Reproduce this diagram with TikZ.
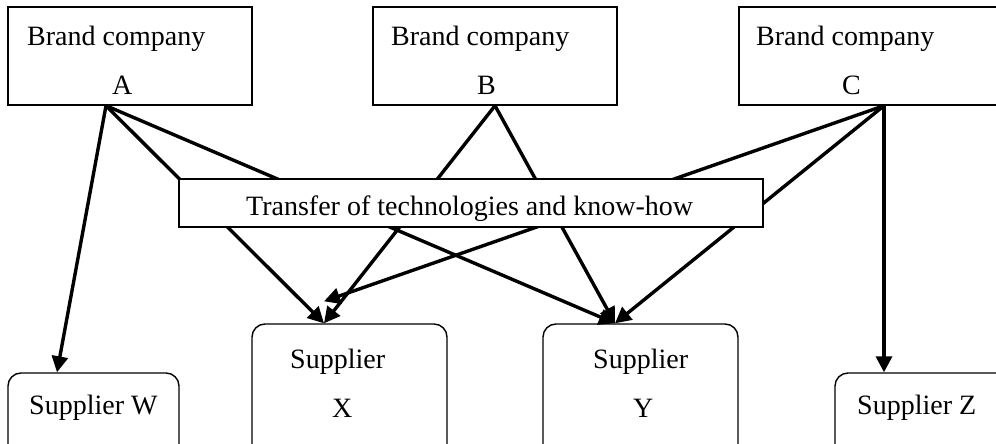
\documentclass[tikz,border=0pt]{standalone}
\usepackage{fontspec}
\setmainfont{Liberation Serif}
\usetikzlibrary{arrows.meta}
\begin{document}
\begin{tikzpicture}[x=1pt,y=-1pt,
  box/.style={draw, line width=1.4pt, inner sep=0pt},
  rbox/.style={box, rounded corners=13pt},
  txt/.style={inner sep=0pt, anchor=base west, font=\fontsize{28}{34}\selectfont},
  link/.style={line width=3.4pt, -{Triangle[length=16pt,width=16pt]}}]
\useasboundingbox (0,0) rectangle (996,444);
\clip (0,0) rectangle (996,444);
% brand boxes
\node[box, minimum width=244pt, minimum height=98pt] (A) at (130,56) {};
\node[box, minimum width=244pt, minimum height=98pt] (B) at (495,56) {};
\node[box, minimum width=271pt, minimum height=98pt] (C) at (874.5,56) {};
% supplier boxes
\node[rbox, minimum width=171pt, minimum height=87pt] (W) at (93.5,416.5) {};
\node[rbox, minimum width=195pt, minimum height=136pt] (X) at (349.5,392) {};
\node[rbox, minimum width=195pt, minimum height=136pt] (Y) at (640.5,392) {};
\node[rbox, minimum width=175pt, minimum height=87pt] (Z) at (922.5,416.5) {};
% ports
\coordinate (Ao) at ([xshift=-24pt]A.south);
\coordinate (Bo) at (B.south);
\coordinate (Co) at ([xshift=9.5pt]C.south);
\coordinate (Wi) at ([xshift=-36.5pt]W.north);
\coordinate (Xi) at ([xshift=-25.5pt]X.north);
\coordinate (Yi) at ([xshift=-25.5pt]Y.north);
\coordinate (Zi) at ([xshift=-38.5pt]Z.north);
\coordinate (Xe) at ([shift={(-25.5pt,22pt)}]X.north);
% connectors
\draw[link] (Ao) -- (Wi);
\draw[link] (Ao) -- (Xi);
\draw[link] (Ao) -- (Yi);
\draw[link] (Bo) -- (Xi);
\draw[link] (Bo) -- (Yi);
\draw[link] (Co) -- (Xe);
\draw[link] (Co) -- (Yi);
\draw[link] (Co) -- (Zi);
% transfer box on top
\node[box, fill=white, minimum width=584pt, minimum height=48pt] (T) at (471,203) {};
% texts
\node[txt] (At1) at (27,46) {Brand company};
\node[txt] (At2) at (112,94) {A};
\node[txt] (Bt1) at (391,46) {Brand company};
\node[txt] (Bt2) at (477,94) {B};
\node[txt] (Ct1) at (756,46) {Brand company};
\node[txt] (Ct2) at (842,94) {C};
\node[txt] (Tt) at (246,215) {Transfer of technologies and know-how};
\node[txt] (Wt) at (29,414) {Supplier W};
\node[txt] (Xt1) at (290,368) {Supplier};
\node[txt] (Xt2) at (332,417) {X};
\node[txt] (Yt1) at (593,368) {Supplier};
\node[txt] (Yt2) at (633,417) {Y};
\node[txt] (Zt) at (857,414) {Supplier Z};
\end{tikzpicture}
\end{document}
